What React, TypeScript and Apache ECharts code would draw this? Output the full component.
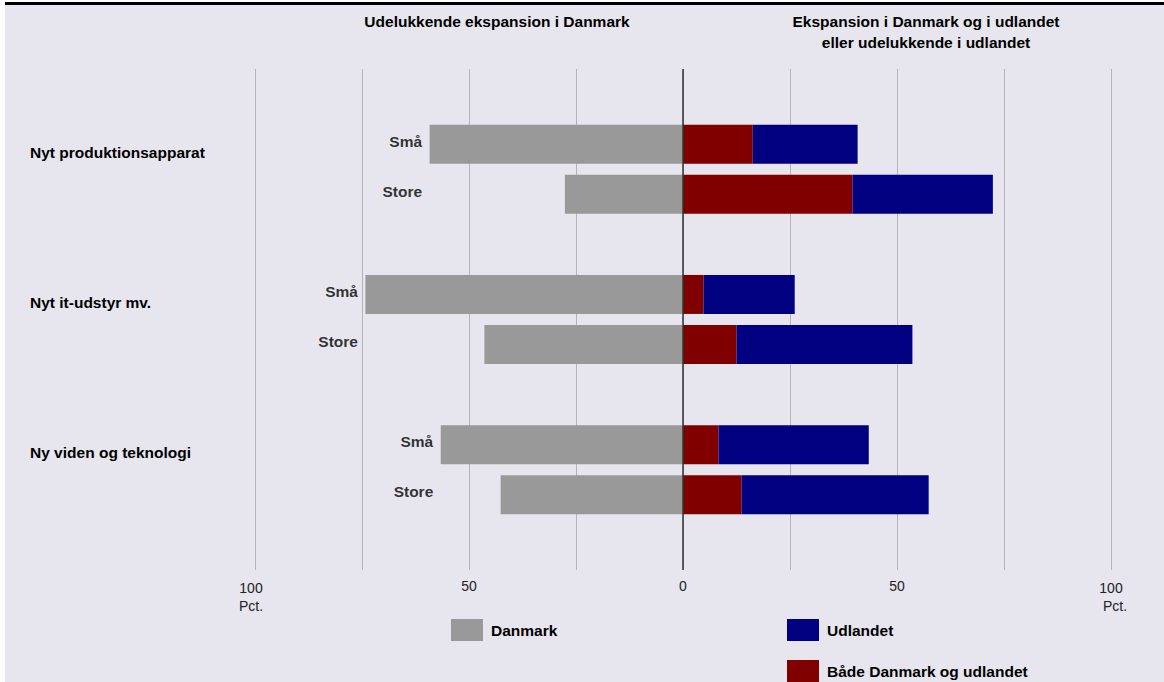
import React, { useEffect, useRef } from "react";
import * as echarts from "echarts";

const groups = ["Nyt produktionsapparat", "Nyt it-udstyr mv.", "Ny viden og teknologi"];
const sizes = ["Små", "Store"];
// order: group1 Små, group1 Store, group2 Små, group2 Store, group3 Små, group3 Store
const danmark = [59.2, 27.6, 74.2, 46.4, 56.6, 42.6];
const begge = [16.3, 39.6, 4.8, 12.5, 8.3, 13.7];
const udlandet = [24.5, 32.8, 21.3, 41.1, 35.1, 43.7];
const seriesNames = ["Danmark", "Udlandet", "Både Danmark og udlandet"];
const leftTitle = "Udelukkende ekspansion i Danmark";
const rightTitle = ["Ekspansion i Danmark og i udlandet", "eller udelukkende i udlandet"];
const xTicks = [-100, -50, 0, 50, 100];
const unitLabel = "Pct.";

const FONT = '"Liberation Sans", Arial, Helvetica, sans-serif';
const BOLD_SIZE = 15.5;

// slots: gap, Små, Store, gap, Små, Store, gap, Små, Store, gap
const slotIndex = (i: number) => Math.floor(i / 2) * 3 + 1 + (i % 2);
const slot = (arr: number[]) => {
  const out: (number | null)[] = new Array(10).fill(null);
  arr.forEach((v, i) => (out[slotIndex(i)] = v));
  return out;
};
const yCats = Array.from({ length: 10 }, (_, i) => "s" + i);

const legendText = { fontSize: BOLD_SIZE, fontWeight: "bold", color: "#000", fontFamily: FONT, padding: [0, 0, 0, 3] };
const legendBase = { padding: 0, itemWidth: 32, itemHeight: 22, icon: "rect", selectedMode: false, textStyle: legendText };
const tickStyle = { fontSize: 14, lineHeight: 18, color: "#222", fontFamily: FONT };

export default function App() {
  const ref = useRef<HTMLDivElement>(null);
  useEffect(() => {
    document.body.style.margin = "0";
    const chart = echarts.init(ref.current!, null, { renderer: "svg" });
    const sizeLabelData: any[] = [];
    groups.forEach((_, g) => {
      const m = Math.max(danmark[2 * g], danmark[2 * g + 1]);
      sizes.forEach((s, k) => {
        sizeLabelData.push([-m, slotIndex(2 * g + k), s]);
      });
    });
    const option: any = {
      animation: false,
      backgroundColor: "#E7E6EE",
      textStyle: { fontFamily: FONT },
      grid: { left: 255, right: 53, top: 69, bottom: 112, containLabel: false },
      xAxis: {
        type: "value",
        min: -100,
        max: 100,
        interval: 25,
        axisLine: { show: false },
        axisTick: { show: false },
        splitLine: { show: true, lineStyle: { color: "#b3b3b8", width: 1 } },
        axisLabel: {
          margin: 9,
          color: "#222",
          fontSize: 14,
          fontFamily: FONT,
          showMinLabel: true,
          showMaxLabel: true,
          formatter: (v: number) => {
            if (!xTicks.includes(v)) return "";
            if (v === -100) return "{aL|" + Math.abs(v) + "}\n{bL|" + unitLabel + "}";
            if (v === 100) return "{aR|" + v + "}\n{bR|" + unitLabel + "}";
            return String(Math.abs(v));
          },
          rich: {
            aL: { ...tickStyle, padding: [0, 8, 0, 0] },
            bL: { ...tickStyle, padding: [0, 8, 0, 0] },
            aR: { ...tickStyle, padding: [0, 0, 0, 0] },
            bR: { ...tickStyle, padding: [0, 0, 0, 8] },
          },
        },
      },
      yAxis: {
        type: "category",
        inverse: true,
        data: yCats,
        axisLine: { show: false },
        axisTick: { show: false },
        splitLine: { show: false },
        axisLabel: {
          align: "left",
          verticalAlign: "top",
          margin: 225,
          fontSize: BOLD_SIZE,
          fontWeight: "bold",
          color: "#000",
          fontFamily: FONT,
          interval: 0,
          formatter: (_: string, idx: number) => (idx % 3 === 1 ? groups[(idx - 1) / 3] : ""),
        },
      },
      legend: [
        { ...legendBase, left: 451, top: 619, data: [seriesNames[0]] },
        { ...legendBase, left: 787, top: 619, data: [seriesNames[1]] },
        { ...legendBase, left: 787, top: 660, data: [seriesNames[2]] },
      ],
      graphic: [
        { type: "rect", shape: { x: 0, y: 0, width: 5, height: 682 }, style: { fill: "#ffffff" }, silent: true },
        { type: "rect", shape: { x: 0, y: 0, width: 1164, height: 2 }, style: { fill: "#ffffff" }, silent: true },
        { type: "rect", shape: { x: 5, y: 2, width: 1159, height: 3 }, style: { fill: "#000000" }, silent: true },
        {
          type: "text",
          x: 497,
          y: 21,
          silent: true,
          style: {
            text: leftTitle,
            fontSize: BOLD_SIZE,
            fontWeight: "bold",
            fontFamily: FONT,
            fill: "#000",
            align: "center",
            verticalAlign: "middle",
          },
        },
        {
          type: "text",
          x: 926,
          y: 31.5,
          silent: true,
          style: {
            text: rightTitle.join("\n"),
            fontSize: BOLD_SIZE,
            fontWeight: "bold",
            fontFamily: FONT,
            fill: "#000",
            align: "center",
            verticalAlign: "middle",
            lineHeight: 21,
          },
        },
      ],
      series: [
        {
          name: seriesNames[0],
          type: "bar",
          stack: "a",
          barWidth: 39,
          itemStyle: { color: "#999999" },
          data: slot(danmark.map((v) => -v)),
          markLine: {
            silent: true,
            symbol: ["none", "none"],
            label: { show: false },
            lineStyle: { color: "#333333", width: 1.5, type: "solid" },
            data: [{ xAxis: 0 }],
          },
        },
        {
          name: seriesNames[2],
          type: "bar",
          stack: "a",
          barWidth: 39,
          itemStyle: { color: "#800000" },
          data: slot(begge),
        },
        {
          name: seriesNames[1],
          type: "bar",
          stack: "a",
          barWidth: 39,
          itemStyle: { color: "#000080" },
          data: slot(udlandet),
        },
        {
          name: "labels",
          type: "scatter",
          symbolSize: 1,
          itemStyle: { color: "rgba(0,0,0,0)" },
          silent: true,
          data: sizeLabelData,
          label: {
            show: true,
            position: "left",
            distance: 7,
            offset: [0, -3],
            fontSize: BOLD_SIZE,
            fontWeight: "bold",
            color: "#000",
            fontFamily: FONT,
            formatter: (p: any) => p.data[2],
          },
          z: 5,
        },
      ],
    };
    chart.setOption(option);
    return () => chart.dispose();
  }, []);
  return (
    <div
      ref={ref}
      style={{ position: "absolute", left: 0, top: 0, width: 1164, height: 682, background: "#fff" }}
    />
  );
}
